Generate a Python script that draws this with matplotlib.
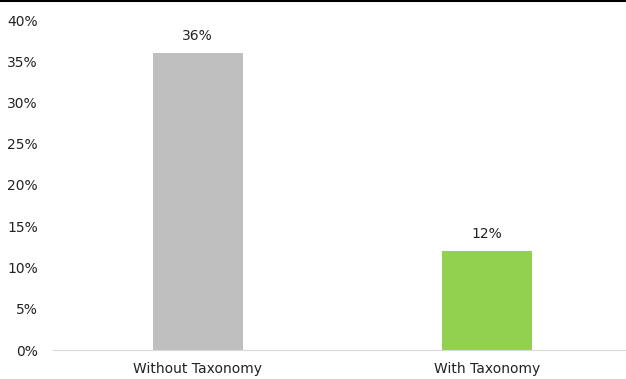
import matplotlib
matplotlib.use('Agg')
import matplotlib.pyplot as plt
from matplotlib.ticker import FuncFormatter

categories = ['Without Taxonomy', 'With Taxonomy']
values = [0.36, 0.12]
bar_colors = ['#BFBFBF', '#92D050']

plt.rcParams['font.family'] = ['DejaVu Sans']

fig = plt.figure(figsize=(6.26, 3.79), dpi=100)
ax = fig.add_axes([53 / 626, 1 - 350 / 379, 579 / 626, 330 / 379])

x = range(len(categories))
ax.bar(x, values, width=0.31, color=bar_colors)
for xi, v in zip(x, values):
    ax.text(xi, v + 0.012, f'{v * 100:.0f}%', ha='center', va='bottom',
            fontsize=10, color='#222222')

ax.set_xlim(-0.5, 1.5)
ax.set_ylim(0, 0.40)
ax.set_yticks([i * 0.05 for i in range(9)])
ax.yaxis.set_major_formatter(FuncFormatter(lambda v, _: f'{v * 100:.0f}%'))
ax.set_xticks(list(x))
ax.set_xticklabels(categories)
ax.tick_params(axis='both', length=0, labelsize=10, colors='#222222')
ax.tick_params(axis='y', pad=11)
ax.tick_params(axis='x', pad=9)

for side in ['top', 'right', 'left']:
    ax.spines[side].set_visible(False)
ax.spines['bottom'].set_color('#D9D9D9')

# thin rule across the top edge
fig.add_artist(plt.Line2D([0, 1], [0.998, 0.998], color='black',
                          linewidth=1.5, transform=fig.transFigure))

fig.savefig('out.png', dpi=100)
